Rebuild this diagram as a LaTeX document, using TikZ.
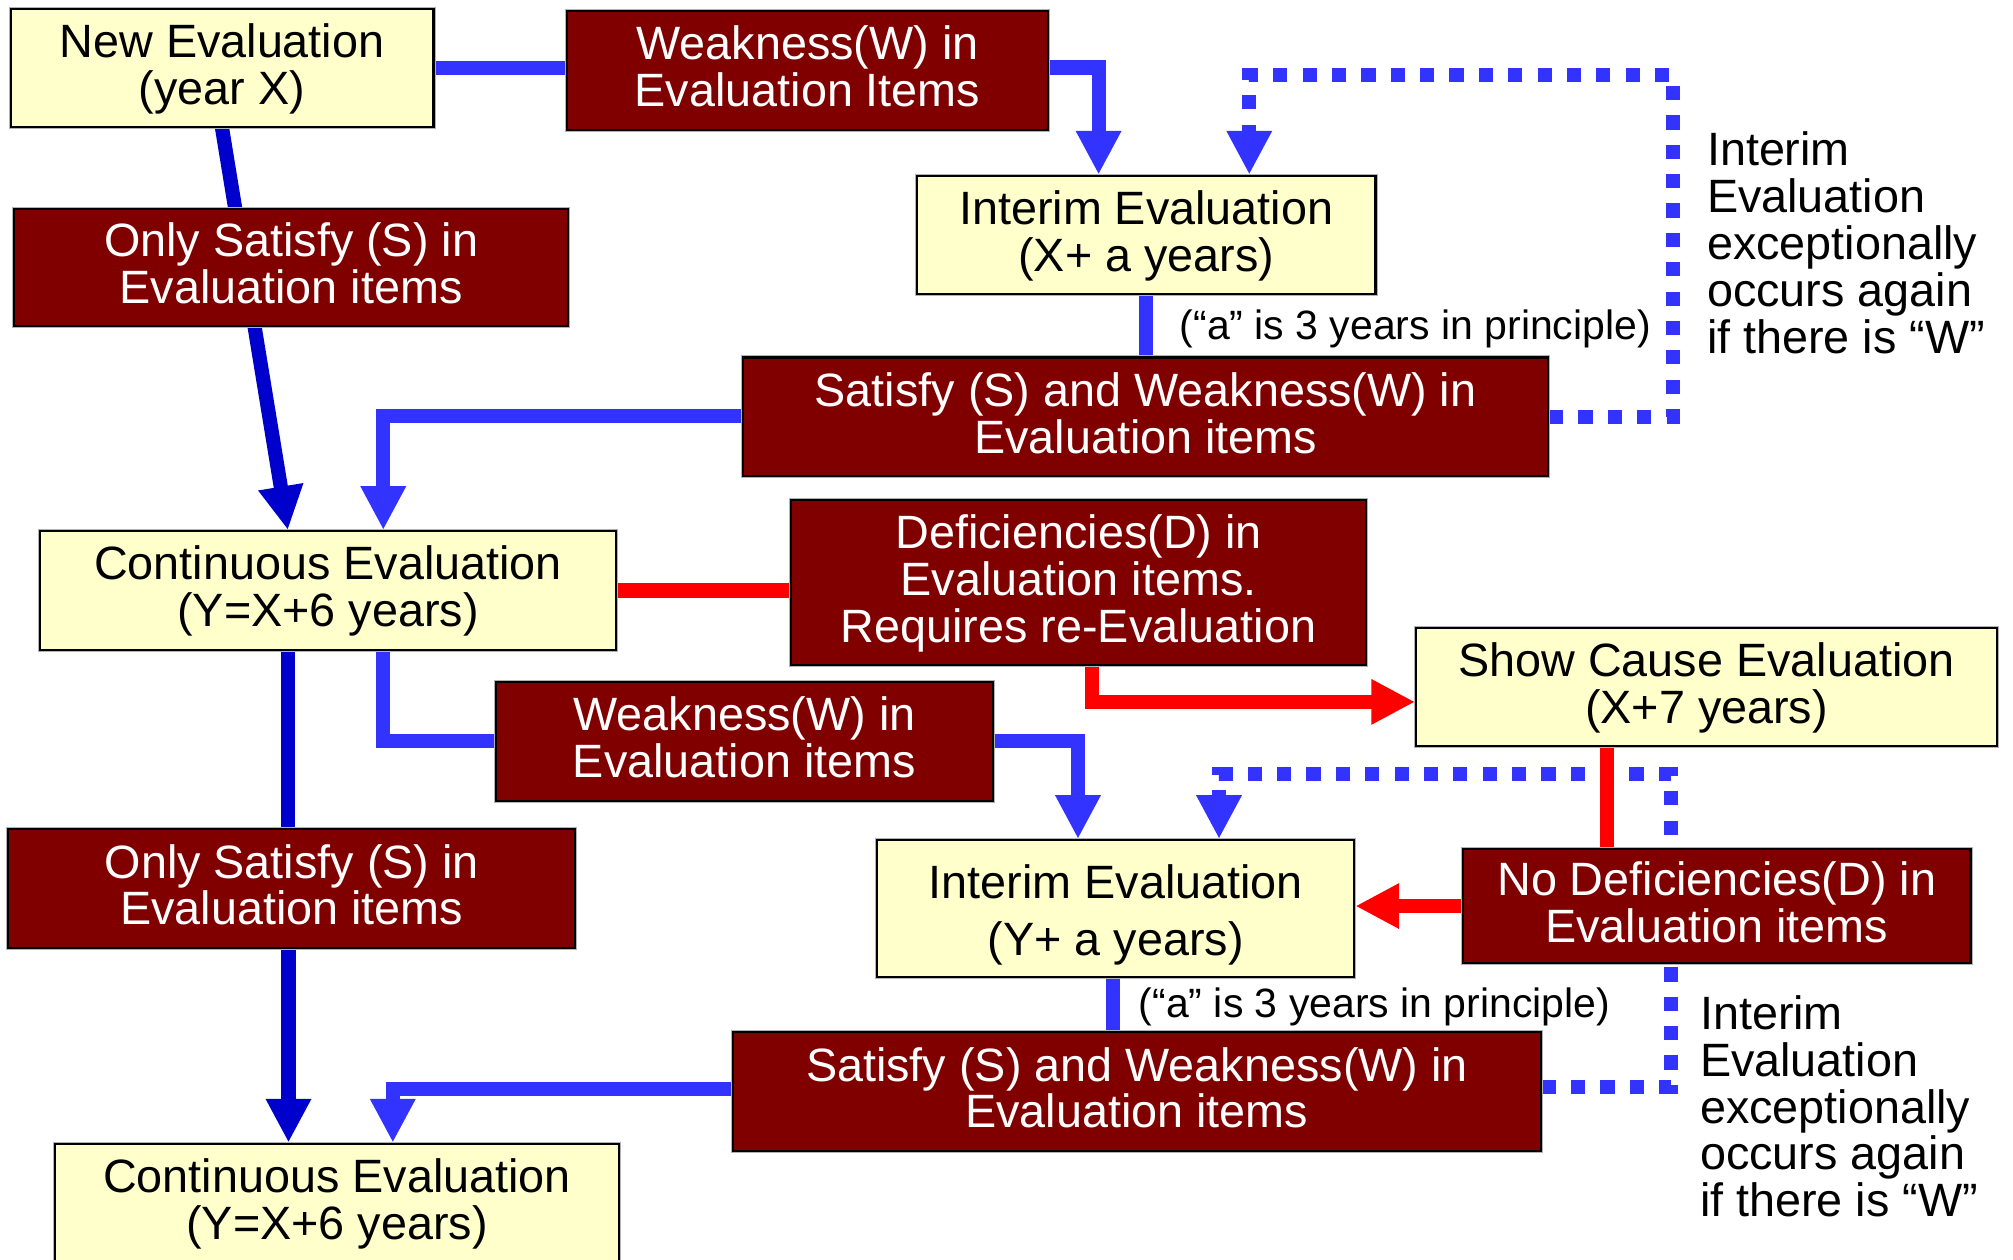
\documentclass[tikz,border=0pt]{standalone}
\usepackage{fontspec}
\setmainfont{Liberation Sans}
\usetikzlibrary{arrows.meta,calc}
\definecolor{boxyellow}{HTML}{FFFFCC}
\definecolor{boxred}{HTML}{800000}
\definecolor{lineblue}{HTML}{3333FF}
\definecolor{darkblue}{HTML}{0000CC}
\definecolor{linered}{HTML}{FF0000}
\newcommand\boxfont{\fontsize{18.15pt}{18.2pt}\selectfont}
\newcommand\notefont{\fontsize{15.9pt}{18pt}\selectfont}
\pgfdeclarelayer{bg}
\pgfsetlayers{bg,main}
\tikzset{
  basebox/.style={draw=black, line width=0.8pt, align=center, inner sep=0pt,
    font=\boxfont, text depth=3.2pt, preaction={draw=gray!60, line width=1.6pt}},
  ybox/.style={basebox, fill=boxyellow, text=black},
  rbox/.style={basebox, fill=boxred, text=white},
  bl/.style={draw=lineblue, line width=5.5pt},
  dbl/.style={draw=darkblue, line width=5.5pt},
  rl/.style={draw=linered, line width=5.5pt},
  dotl/.style={draw=lineblue, line width=5.5pt, dash pattern=on 5.5pt off 5.9pt},
  tip/.style={-{Triangle[width=16.5pt,length=17pt]}},
  note/.style={inner sep=0pt, font=\notefont, text=black},
  side/.style={inner sep=0pt, font=\boxfont, align=left, anchor=north west, text=black}
}
\begin{document}
\begin{tikzpicture}[x=0.5pt,y=-0.5pt]
\useasboundingbox (0,0) rectangle (1563,977.6);

% boxes
\node[ybox, minimum width=164.2pt, minimum height=45.8pt] (NewEval) at (172.4,52.8) {New Evaluation\\(year X)};
\node[rbox, minimum width=187pt, minimum height=46pt] (W1) at (627,54.6) {Weakness(W) in\\Evaluation Items};
\node[ybox, minimum width=178pt, minimum height=46pt] (Interim1) at (890,182.4) {Interim Evaluation\\(X+ a years)};
\node[rbox, minimum width=215pt, minimum height=45.5pt] (OnlyS1) at (226,207.5) {Only Satisfy (S) in\\Evaluation items};
\node[rbox, minimum width=312.5pt, minimum height=46pt] (SW1) at (889.5,323.6) {Satisfy (S) and Weakness(W) in\\Evaluation items};
\node[ybox, minimum width=223.5pt, minimum height=46.2pt] (Cont1) at (254.7,458.5) {Continuous Evaluation\\(Y=X+6 years)};
\node[rbox, minimum width=223pt, minimum height=64.15pt] (Def) at (837.5,452.4) {Deficiencies(D) in\\Evaluation items.\\Requires re-Evaluation};
\node[ybox, minimum width=225.5pt, minimum height=45.7pt] (ShowCause) at (1325,533.4) {Show Cause Evaluation\\(X+7 years)};
\node[rbox, minimum width=192.8pt, minimum height=46.35pt] (W2) at (578,575.6) {Weakness(W) in\\Evaluation items};
\node[rbox, minimum width=220pt, minimum height=46.25pt] (OnlyS2) at (226.5,690) {Only Satisfy (S) in\\Evaluation items};
\node[ybox, minimum width=185.3pt, minimum height=53.3pt, font={\fontsize{18.15pt}{22pt}\selectfont}, text height=40pt, text depth=3.85pt] (Interim2) at (866.3,705.5) {Interim Evaluation\\(Y+ a years)};
\node[rbox, minimum width=197pt, minimum height=44.5pt] (NoDef) at (1333,703.5) {No Deficiencies(D) in\\Evaluation items};
\node[rbox, minimum width=313.5pt, minimum height=46pt] (SW2) at (882.7,847.6) {Satisfy (S) and Weakness(W) in\\Evaluation items};
\node[ybox, minimum width=219.25pt, minimum height=46pt] (Cont2) at (261.7,934) {Continuous Evaluation\\(Y=X+6 years)};

% notes
\node[note] (note1) at (1098.9,255.5) {(“a” is 3 years in principle)};
\node[note] (note2) at (1067.2,781.5) {(“a” is 3 years in principle)};
\node[side] (side1) at (1325,102) {Interim\\Evaluation\\exceptionally\\occurs again\\if there is “W”};
\node[side] (side2) at (1319.6,772.5) {Interim\\Evaluation\\exceptionally\\occurs again\\if there is “W”};

\coordinate (c1) at (1299,58);
\coordinate (c2) at (1297.5,601);

\begin{pgfonlayer}{bg}
% dotted loops
\draw[dotl, tip] (SW1.east) -| (c1) -| ([xshift=40pt]Interim1.north);
\draw[dotl, tip] ([yshift=1.8pt]SW2.east) -| (c2) -| ([xshift=40.1pt]Interim2.north);
% blue
\draw[bl] (NewEval.east) -- (NewEval.east -| W1.west);
\draw[bl, tip] ([yshift=1.1pt]W1.east) -| ([xshift=-18.5pt]Interim1.north);
\draw[bl] (Interim1.south) -- (Interim1.south |- SW1.north);
\draw[bl, tip] ([yshift=0.45pt]SW1.west) -| ([xshift=21.45pt]Cont1.north);
\draw[bl] ([xshift=21.45pt]Cont1.south) |- (W2.west);
\draw[bl, tip] (W2.east) -| ([xshift=-14.65pt]Interim2.north);
\draw[bl] ([xshift=-1.15pt]Interim2.south) -- ([xshift=-1.15pt]Interim2.south |- SW2.north);
\draw[bl, tip] ([yshift=1.1pt]SW2.west) -| ([xshift=21.65pt]Cont2.north);
% dark blue
\draw[dbl, tip] (NewEval.south) -- ([xshift=-15.6pt]Cont1.north);
\draw[dbl] ([xshift=-15.6pt]Cont1.south) -- ([xshift=-15.6pt]Cont1.south |- OnlyS2.north);
\draw[dbl, tip] ([xshift=-18.85pt]Cont2.north |- OnlyS2.south) -- ([xshift=-18.85pt]Cont2.north);
% red
\draw[rl] (Cont1.east) -- (Cont1.east -| Def.west);
\draw[rl, tip] ([xshift=5.25pt]Def.south) |- ([yshift=-5.8pt]ShowCause.west);
\draw[rl] ([xshift=-38.5pt]ShowCause.south) -- ([xshift=-38.5pt]ShowCause.south |- NoDef.north);
\draw[rl, tip] (NoDef.west) -- (NoDef.west -| Interim2.east);
\end{pgfonlayer}
\end{tikzpicture}
\end{document}
